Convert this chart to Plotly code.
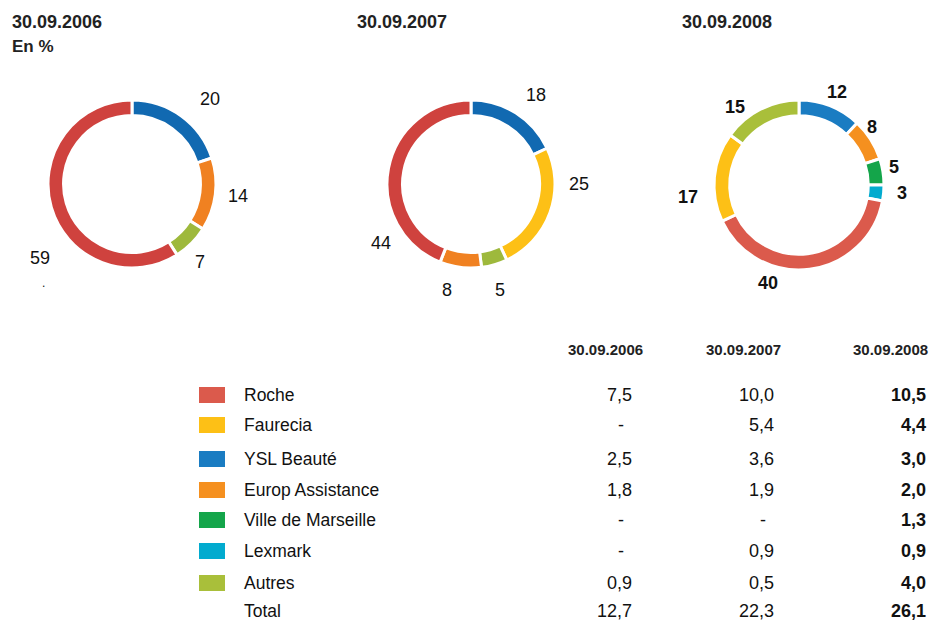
import math
import plotly.graph_objects as go

# ---------------- data ----------------
categories = ["Roche", "Faurecia", "YSL Beauté", "Europ Assistance",
              "Ville de Marseille", "Lexmark", "Autres"]
years = ["30.09.2006", "30.09.2007", "30.09.2008"]

# donut shares (%), in clockwise order from 12 o'clock
donut_2006_cats = ["YSL Beauté", "Europ Assistance", "Autres", "Roche"]
donut_2006_vals = [20, 14, 7, 59]
donut_2007_cats = ["YSL Beauté", "Faurecia", "Autres", "Europ Assistance", "Roche"]
donut_2007_vals = [18, 25, 5, 8, 44]
donut_2008_cats = ["YSL Beauté", "Europ Assistance", "Ville de Marseille", "Lexmark",
                   "Roche", "Faurecia", "Autres"]
donut_2008_vals = [12, 8, 5, 3, 40, 17, 15]

# table values (None = "-")
table_2006 = [7.5, None, 2.5, 1.8, None, None, 0.9]
table_2007 = [10.0, 5.4, 3.6, 1.9, None, 0.9, 0.5]
table_2008 = [10.5, 4.4, 3.0, 2.0, 1.3, 0.9, 4.0]
total_2006 = 12.7
total_2007 = 22.3
total_2008 = 26.1

# ---------------- styles / layout ----------------
W, H = 932, 621
colors = {
    "Roche": "#db5a4c",
    "Faurecia": "#fdc016",
    "YSL Beauté": "#1a7cc2",
    "Europ Assistance": "#f5901f",
    "Ville de Marseille": "#14a54a",
    "Lexmark": "#02abcf",
    "Autres": "#a9bf3a",
}
donut_colors_old = dict(colors)
donut_colors_old.update({"Roche": "#cf423e", "YSL Beauté": "#1169b1",
                         "Europ Assistance": "#f08121", "Autres": "#9eb93c"})

FONT = "Liberation Sans, Arial, sans-serif"


def px(x, y):
    return x / W, 1 - y / H


fig = go.Figure()
annotations = []
shapes = []

# label placement: (angle offset from slice middle in degrees, radius in px)
donuts = [
    dict(cats=donut_2006_cats, vals=donut_2006_vals, cx=132, cy=184, r=84,
         pal=donut_colors_old, bold=False,
         place=[(6.5, 115), (-0.7, 107), (4, 104), (-22.6, 118)]),
    dict(cats=donut_2007_cats, vals=donut_2007_vals, cx=471, cy=184, r=84,
         pal=donut_colors_old, bold=False,
         place=[(3.7, 110), (-20, 108), (1, 110), (5.6, 109), (-44, 108)]),
    dict(cats=donut_2008_cats, vals=donut_2008_vals, cx=799, cy=185, r=85,
         pal=colors, bold=True,
         place=[(0.8, 101), (-5.8, 93), (-1.7, 97), (-1.2, 103), (24.7, 103),
                (-11.5, 112), (-12.2, 101)]),
]

for d in donuts:
    x0, y1 = px(d["cx"] - d["r"], d["cy"] - d["r"])
    x1, y0 = px(d["cx"] + d["r"], d["cy"] + d["r"])
    fig.add_trace(go.Pie(
        labels=d["cats"], values=d["vals"], hole=0.815, sort=False,
        direction="clockwise", rotation=0,
        marker=dict(colors=[d["pal"][c] for c in d["cats"]],
                    line=dict(color="white", width=3)),
        textinfo="none", hoverinfo="label+value", showlegend=False,
        domain=dict(x=[x0, x1], y=[y0, y1]),
    ))
    total = sum(d["vals"])
    cum = 0
    for i, v in enumerate(d["vals"]):
        mid = (cum + v / 2) / total * 360
        cum += v
        dang, rr = d["place"][i]
        a = math.radians(mid + dang)
        lx = d["cx"] + rr * math.sin(a)
        ly = d["cy"] - rr * math.cos(a)
        ax, ay = px(lx, ly)
        txt = f"<b>{v}</b>" if d["bold"] else str(v)
        annotations.append(dict(x=ax, y=ay, xref="paper", yref="paper",
                                text=txt, showarrow=False,
                                font=dict(family=FONT, size=18, color="#111"),
                                xanchor="center", yanchor="middle"))

# stray dot under "59"
annotations.append(dict(x=px(43, 283)[0], y=px(43, 283)[1], xref="paper", yref="paper",
                        text=".", showarrow=False,
                        font=dict(family=FONT, size=12, color="#111"),
                        xanchor="center", yanchor="middle"))

# titles
title_x = [10, 355, 680]
for yr, tx in zip(years, title_x):
    ax, ay = px(tx, 22)
    annotations.append(dict(x=ax, y=ay, xref="paper", yref="paper",
                            text=f"<b>{yr}</b>", showarrow=False,
                            font=dict(family=FONT, size=18, color="#222"),
                            xanchor="left", yanchor="middle"))
ax, ay = px(10, 46)
annotations.append(dict(x=ax, y=ay, xref="paper", yref="paper",
                        text="<b>En %</b>", showarrow=False,
                        font=dict(family=FONT, size=17, color="#222"),
                        xanchor="left", yanchor="middle"))

# table headers
col_right = [634, 776, 928]
head_right = [645, 783, 930]
for yr, hx in zip(years, head_right):
    ax, ay = px(hx, 349)
    annotations.append(dict(x=ax, y=ay, xref="paper", yref="paper",
                            text=f"<b>{yr}</b>", showarrow=False,
                            font=dict(family=FONT, size=15, color="#222"),
                            xanchor="right", yanchor="middle"))


def fmt(v):
    return "-" if v is None else f"{v:.1f}".replace(".", ",")


row_y = [395, 425, 459, 490, 520, 551, 583]
cols = [table_2006, table_2007, table_2008]
for i, cat in enumerate(categories):
    y = row_y[i]
    sx0, sy1 = px(199, y - 8)
    sx1, sy0 = px(225, y + 8)
    shapes.append(dict(type="rect", xref="paper", yref="paper",
                       x0=sx0, x1=sx1, y0=sy0, y1=sy1,
                       fillcolor=colors[cat], line=dict(width=0)))
    ax, ay = px(242, y)
    annotations.append(dict(x=ax, y=ay, xref="paper", yref="paper",
                            text=cat, showarrow=False,
                            font=dict(family=FONT, size=17.5, color="#111"),
                            xanchor="left", yanchor="middle"))
    for j, col in enumerate(cols):
        v = col[i]
        t = fmt(v)
        xr = col_right[j] - (8 if v is None else 0)
        if j == 2:
            t = f"<b>{t}</b>"
        ax, ay = px(xr, y)
        annotations.append(dict(x=ax, y=ay, xref="paper", yref="paper",
                                text=t, showarrow=False,
                                font=dict(family=FONT, size=18, color="#111"),
                                xanchor="right", yanchor="middle"))

# total row
y = 611
ax, ay = px(242, y)
annotations.append(dict(x=ax, y=ay, xref="paper", yref="paper",
                        text="Total", showarrow=False,
                        font=dict(family=FONT, size=17.5, color="#111"),
                        xanchor="left", yanchor="middle"))
for j, tv in enumerate([total_2006, total_2007, total_2008]):
    t = fmt(tv)
    if j == 2:
        t = f"<b>{t}</b>"
    ax, ay = px(col_right[j], y)
    annotations.append(dict(x=ax, y=ay, xref="paper", yref="paper",
                            text=t, showarrow=False,
                            font=dict(family=FONT, size=18, color="#111"),
                            xanchor="right", yanchor="middle"))

fig.update_layout(
    width=W, height=H,
    margin=dict(l=0, r=0, t=0, b=0),
    paper_bgcolor="white", plot_bgcolor="white",
    annotations=annotations, shapes=shapes,
    showlegend=False,
)

fig.write_html(
    "out.html",
    config={"displayModeBar": False},
    post_script="document.body.style.margin='0';document.body.style.overflow='hidden';",
)
